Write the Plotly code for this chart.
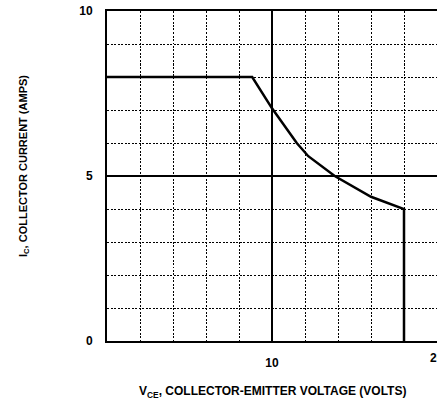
import plotly.graph_objects as go

# Safe operating area boundary
vce = [0, 8.8, 10, 11.5, 12.2, 13.8, 16, 18, 18]
ic = [8, 8, 7.05, 6, 5.6, 5, 4.37, 4, 0]

x_ticks = [10]
x_tick_text = ["10"]
x_edge_tick = 20
x_edge_text = "20"
y_ticks = [0, 5, 10]
y_tick_text = ["0", "5", "10"]

x_title = "V<sub>CE</sub>, COLLECTOR-EMITTER VOLTAGE (VOLTS)"
y_title = "I<sub>C</sub>, COLLECTOR CURRENT (AMPS)"

FONT = "Liberation Sans Narrow, Arial Narrow, Liberation Sans, Arial, sans-serif"

fig = go.Figure()
fig.add_trace(go.Scatter(x=vce, y=ic, mode="lines",
                         line=dict(color="black", width=2.5),
                         showlegend=False, hoverinfo="skip"))

axis_common = dict(
    showline=True, linecolor="black", linewidth=2,
    showgrid=True, gridcolor="black", gridwidth=1.6,
    zeroline=False, ticks="",
    tickfont=dict(family=FONT, size=12, color="black", weight="bold"),
    ticklabelstandoff=10,
)

fig.update_layout(
    width=437, height=405,
    margin=dict(l=107, r=0, t=11, b=64),
    paper_bgcolor="white", plot_bgcolor="white",
    xaxis=dict(range=[0, 20], tickvals=x_ticks, ticktext=x_tick_text,
               mirror=True,
               minor=dict(dtick=2, tick0=0, showgrid=True, gridcolor="black",
                          gridwidth=1, griddash="2px,1.5px", ticks=""),
               **axis_common),
    yaxis=dict(range=[0, 10], tickvals=y_ticks, ticktext=y_tick_text,
               mirror=False,
               minor=dict(dtick=1, tick0=0, showgrid=True, gridcolor="black",
                          gridwidth=1, griddash="2px,1.5px", ticks=""),
               **axis_common),
)

# "20" tick label sits at the right edge of the page (cut off in the reference)
fig.add_annotation(text=x_edge_text, xref="x", yref="paper",
                   x=x_edge_tick, y=(341 - 358) / 330, xanchor="center", yanchor="middle",
                   showarrow=False,
                   font=dict(family=FONT, size=12, color="black", weight="bold"))

fig.add_annotation(text=x_title, xref="paper", yref="paper",
                   x=0.5, y=(341 - 392) / 330, xanchor="center", yanchor="middle",
                   showarrow=False,
                   font=dict(family=FONT, size=12, color="black", weight="bold"))
fig.add_annotation(text=y_title, xref="paper", yref="paper",
                   x=(24 - 107) / 330, y=(341 - 166) / 330, xanchor="center", yanchor="middle",
                   textangle=-90, showarrow=False,
                   font=dict(family=FONT, size=11, color="black", weight="bold"))

fig.write_html("out.html")
